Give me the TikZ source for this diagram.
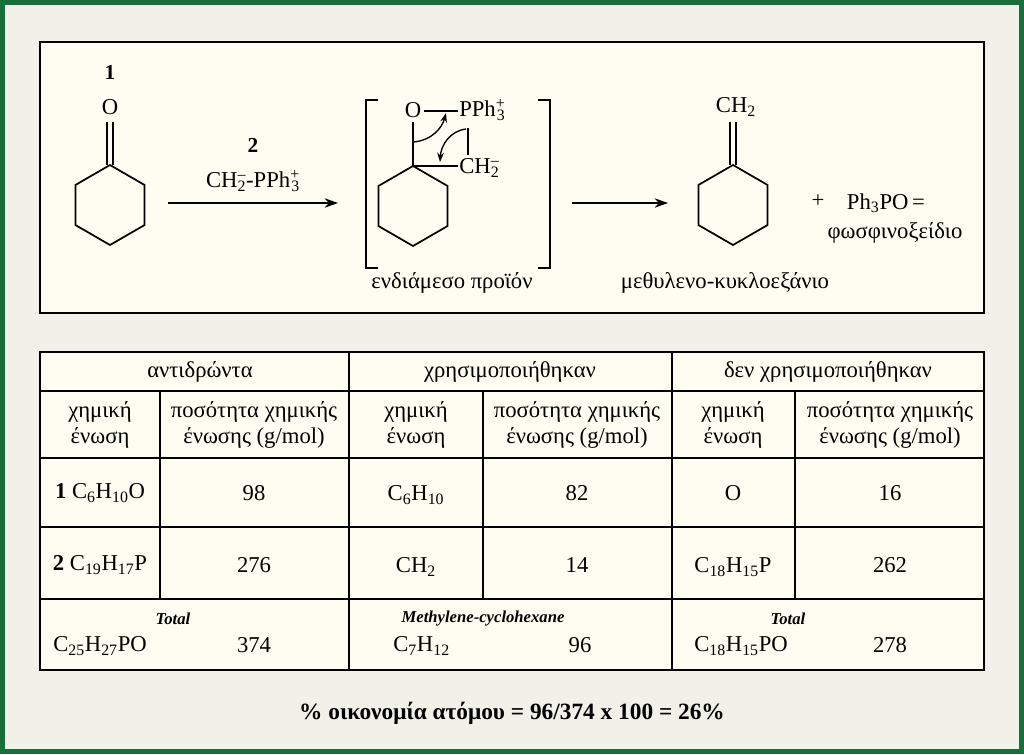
\documentclass[tikz,border=0pt]{standalone}
\usepackage{fontspec}
\setmainfont{Liberation Serif}
\usetikzlibrary{arrows.meta}
\definecolor{frame}{HTML}{17703A}
\definecolor{bg}{HTML}{F1F1EA}
\definecolor{cream}{HTML}{FDFDF2}
\newcommand{\sbs}[1]{\textsubscript{#1}}
\newcommand{\sbsp}[2]{\textsuperscript{#2}\llap{\textsubscript{#1}}}
\begin{document}
\begin{tikzpicture}[x=0.75pt,y=-0.75pt,
  txt/.style={font=\fontsize{17}{19.5}\selectfont, inner sep=0pt},
  bond/.style={line width=1.3pt},
  rxn/.style={line width=1.3pt,-{Stealth[length=10pt,width=7pt]}},
  box/.style={draw=black,line width=1.5pt,fill=cream},
  small/.style={txt,font=\bfseries\itshape\fontsize{12.5}{14}\selectfont}]
\useasboundingbox (0,0) rectangle (1024,754);
\fill[frame] (0,0) rectangle (1024,754);
\fill[bg] (5,5) rectangle (1019,749);
\draw[box] (40,42) rectangle (984,313);
% cyclohexanone
\draw[bond] (110,165) -- (144.6,185) -- (144.6,225) -- (110,245) -- (75.4,225) -- (75.4,185) -- cycle;
\draw[bond] (107,165) -- (107,122); \draw[bond] (113,165) -- (113,122);
\node[txt] (o1) at (110,107) {O};
\node[txt,font=\bfseries\fontsize{16}{18}\selectfont] (n1) at (110,72) {1};
\coordinate (a1s) at (168,203); \coordinate (a1e) at (338,203);
\draw[rxn] (a1s) -- (a1e);
\node[txt,font=\bfseries\fontsize{16}{18}\selectfont] (n2) at (253,145) {2};
\node[txt] (reag) at (253,181) {CH\sbsp{2}{–}-PPh\sbsp{3}{+}};
% intermediate
\draw[bond] (378,100) -- (366,100) -- (366,268) -- (378,268);
\draw[bond] (538,100) -- (550,100) -- (550,268) -- (538,268);
\draw[bond] (413,166) -- (447.6,186) -- (447.6,226) -- (413,246) -- (378.4,226) -- (378.4,186) -- cycle;
\node[txt] (o2) at (413,110) {O};
\node[txt,anchor=west] (p2) at (459,110) {PPh\sbsp{3}{+}};
\node[txt,anchor=west] (c2) at (459,168) {CH\sbsp{2}{–}};
\draw[bond] (413,166) -- (413,122);
\draw[bond] (424,111) -- (458,111);
\draw[bond] (413,166) -- (458,166);
\draw[bond] (468,128) -- (468,155);
\draw[line width=1pt,-{Stealth[length=7pt,width=5pt]}] (414,142) .. controls (432,140) and (442,128) .. (446,113);
\draw[line width=1pt,-{Stealth[length=7pt,width=5pt]}] (466,129) .. controls (450,131) and (441,145) .. (440,162);
\node[txt] (lint) at (452,283) {ενδιάμεσο προϊόν};
% product
\draw[rxn] (572,203) -- (668,203);
\draw[bond] (733,165) -- (767.6,185) -- (767.6,225) -- (733,245) -- (698.4,225) -- (698.4,185) -- cycle;
\draw[bond] (730,165) -- (730,122); \draw[bond] (736,165) -- (736,122);
\node[txt] (ch2p) at (736,107) {CH\sbs{2}};
\node[txt] (lprod) at (725,283) {μεθυλενο-κυκλοεξάνιο};
\node[txt] (plus) at (818,201) {+};
\node[txt] (ph3po) at (886,203) {Ph\sbs{3}PO\,=};
\node[txt] (lphos) at (895,233) {φωσφινοξείδιο};
% table
\draw[box] (40,352) rectangle (984,670);
\foreach \y in {391,458,527,599} \draw[line width=1pt] (40,\y) -- (984,\y);
\foreach \x in {349,672} \draw[line width=1.5pt] (\x,352) -- (\x,670);
\foreach \x in {160,483,795} \draw[line width=1pt] (\x,391) -- (\x,599);
\node[txt] (h1) at (200,372) {αντιδρώντα};
\node[txt] (h2) at (510,372) {χρησιμοποιήθηκαν};
\node[txt] (h3) at (828,372) {δεν χρησιμοποιήθηκαν};
\foreach \c/\d [count=\i] in {100/254,416/577,733/890}{
  \node[txt,align=center] (ca\i) at (\c,425) {χημική\\ένωση};
  \node[txt,align=center] (cb\i) at (\d,425) {ποσότητα χημικής\\ένωσης (g/mol)};
}
\node[txt] (r11) at (100,493) {\textbf{1} C\sbs{6}H\sbs{10}O};
\node[txt] (r12) at (254,493) {98};
\node[txt] (r13) at (416,495) {C\sbs{6}H\sbs{10}};
\node[txt] (r14) at (577,493) {82};
\node[txt] (r15) at (733,493) {O};
\node[txt] (r16) at (890,493) {16};
\node[txt] (r21) at (100,565) {\textbf{2} C\sbs{19}H\sbs{17}P};
\node[txt] (r22) at (254,565) {276};
\node[txt] (r23) at (416,567) {CH\sbs{2}};
\node[txt] (r24) at (577,565) {14};
\node[txt] (r25) at (733,567) {C\sbs{18}H\sbs{15}P};
\node[txt] (r26) at (890,565) {262};
\node[small] (t1) at (173,619) {Total};
\node[txt,anchor=west] (t1f) at (53,646) {C\sbs{25}H\sbs{27}PO};
\node[txt] (t1v) at (254,645) {374};
\node[small] (t2) at (483,619) {Methylene-cyclohexane};
\node[txt,anchor=west] (t2f) at (393,646) {C\sbs{7}H\sbs{12}};
\node[txt] (t2v) at (580,645) {96};
\node[small] (t3) at (788,619) {Total};
\node[txt,anchor=west] (t3f) at (694,646) {C\sbs{18}H\sbs{15}PO};
\node[txt] (t3v) at (890,645) {278};
\node[txt,font=\bfseries\fontsize{17.5}{20}\selectfont] (eco) at (512,713) {\% οικονομία ατόμου = 96/374 x 100 = 26\%};
\end{tikzpicture}
\end{document}
